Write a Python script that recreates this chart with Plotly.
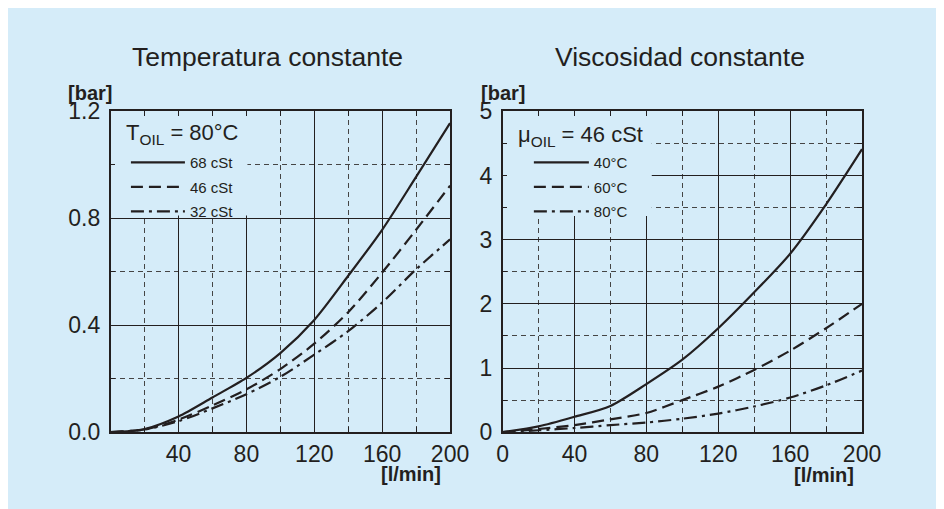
import plotly.graph_objects as go

# ---------------- data ----------------
flow = [0, 20, 40, 60, 80, 100, 120, 140, 160, 180, 200]

visc_labels = ["68 cSt", "46 cSt", "32 cSt"]
p_68cst = [0, 0.012, 0.059, 0.13, 0.203, 0.296, 0.42, 0.585, 0.757, 0.955, 1.156]
p_46cst = [0, 0.010, 0.047, 0.10, 0.160, 0.236, 0.331, 0.449, 0.597, 0.757, 0.922]
p_32cst = [0, 0.010, 0.041, 0.089, 0.142, 0.207, 0.290, 0.378, 0.485, 0.609, 0.721]

temp_labels = ["40°C", "60°C", "80°C"]
p_40c = [0, 0.09, 0.24, 0.41, 0.75, 1.13, 1.62, 2.18, 2.78, 3.55, 4.41]
p_60c = [0, 0.05, 0.11, 0.20, 0.30, 0.50, 0.71, 0.97, 1.27, 1.62, 2.00]
p_80c = [0, 0.03, 0.065, 0.11, 0.15, 0.21, 0.29, 0.40, 0.54, 0.73, 0.96]

left_xticks = [40, 80, 120, 160, 200]
right_xticks = [0, 40, 80, 120, 160, 200]
x_minor = [20, 60, 100, 140, 180]
left_yticks = [0.0, 0.4, 0.8, 1.2]
left_yticklabels = ["0.0", "0.4", "0.8", "1.2"]
left_yminor = [0.2, 0.6, 1.0]
right_yticks = [0, 1, 2, 3, 4, 5]
right_yminor = [0.5, 1.5, 2.5, 3.5, 4.5]

title_left = "Temperatura constante"
title_right = "Viscosidad constante"
legend_title_left = "T<sub>OIL</sub> = 80°C"
legend_title_right = "μ<sub>OIL</sub> = 46 cSt"
y_unit = "<b>[bar]</b>"
x_unit = "<b>[l/min]</b>"

# ---------------- style ----------------
# the page body keeps its default 8px margin (white strip on the left and top)
OFF = 8
W, H = 944 - OFF, 509 - OFF
BG = "#d5ecf9"
INK = "#231f20"
FONT = "Liberation Sans, Arial, Helvetica, sans-serif"
DASHES = ["solid", "12px,6px", "13px,5px,3px,5px"]

def px(x):
    return (x - OFF) / W

def py(y):
    return 1 - (y - OFF) / H

fig = go.Figure()

for vals, name, dash in zip([p_68cst, p_46cst, p_32cst], visc_labels, DASHES):
    fig.add_trace(go.Scatter(x=flow, y=vals, name=name, mode="lines",
                             line=dict(color=INK, width=2.2, dash=dash, shape="spline", smoothing=0.8),
                             xaxis="x", yaxis="y", legend="legend", legendgroup=name,
                             hoverinfo="skip"))

for vals, name, dash in zip([p_40c, p_60c, p_80c], temp_labels, DASHES):
    fig.add_trace(go.Scatter(x=flow, y=vals, name=name, mode="lines",
                             line=dict(color=INK, width=2.2, dash=dash, shape="spline", smoothing=0.8),
                             xaxis="x2", yaxis="y2", legend="legend2", legendgroup=name,
                             hoverinfo="skip"))

def axis(domain, rng, tickvals, minor_vals, ticktext=None, standoff=0, anchor=None):
    d = dict(domain=domain, range=rng, tickmode="array", tickvals=tickvals,
             showline=True, linecolor=INK, linewidth=1.6, mirror="ticks",
             ticks="inside", ticklen=5, tickcolor=INK, tickwidth=1,
             showgrid=True, gridcolor=INK, gridwidth=1, zeroline=False,
             tickfont=dict(family=FONT, size=23, color=INK),
             ticklabelstandoff=standoff, anchor=anchor, fixedrange=True,
             minor=dict(tickmode="array", tickvals=minor_vals, ticks="inside", ticklen=5,
                        tickcolor=INK, tickwidth=1, showgrid=True, gridcolor="#454545",
                        griddash="5px,4px", gridwidth=1))
    if ticktext is not None:
        d["ticktext"] = ticktext
    return d

yd = [py(441.7), py(103.3)]

def legend_cfg(x_left, y_top, itemwidth):
    return dict(x=px(x_left), y=py(y_top), xanchor="left", yanchor="top",
                bgcolor="rgba(0,0,0,0)", font=dict(family=FONT, size=15, color=INK),
                itemwidth=itemwidth, tracegroupgap=2)

fig.update_layout(
    width=W, height=H, margin=dict(l=0, r=0, t=0, b=0),
    paper_bgcolor=BG, plot_bgcolor=BG, showlegend=True,
    xaxis=axis([px(107.3), px(456)], [0, 200], left_xticks, x_minor, standoff=0, anchor="y"),
    yaxis=axis(yd, [0, 1.2], left_yticks, left_yminor, ticktext=left_yticklabels, standoff=4, anchor="x"),
    xaxis2=axis([px(510), px(879.3)], [0, 200], right_xticks, x_minor, standoff=0, anchor="y2"),
    yaxis2=axis(yd, [0, 5], right_yticks, right_yminor, standoff=4, anchor="x2"),
    legend=legend_cfg(123, 140, 54),
    legend2=legend_cfg(537, 140, 55),
)

# legend masks (hide grid behind the legend boxes)
fig.update_layout(shapes=[
    dict(type="rect", xref="x", yref="y", x0=0, x1=80.6, y0=0.81, y1=1.2,
         fillcolor=BG, line=dict(width=0), layer="between"),
    dict(type="rect", xref="x2", yref="y2", x0=0, x1=83, y0=3.37, y1=5,
         fillcolor=BG, line=dict(width=0), layer="between"),
])

ann = [
    dict(text=title_left, x=px(268.5), y=py(45.5), size=26.5, xanchor="center"),
    dict(text=title_right, x=px(692), y=py(45.5), size=26.5, xanchor="center"),
    dict(text=legend_title_left, x=px(121), y=py(127), size=22, xanchor="left"),
    dict(text=legend_title_right, x=px(524), y=py(129), size=22, xanchor="left"),
    dict(text=y_unit, x=px(61), y=py(84), size=20, xanchor="left"),
    dict(text=y_unit, x=px(486), y=py(84), size=20, xanchor="left"),
    dict(text=x_unit, x=px(449), y=py(486), size=20, xanchor="right"),
    dict(text=x_unit, x=px(873), y=py(487), size=20, xanchor="right"),
]
for a in ann:
    fig.add_annotation(text=a["text"], x=a["x"], y=a["y"], xref="paper", yref="paper",
                       xanchor=a["xanchor"], yanchor="middle", showarrow=False,
                       font=dict(family=FONT, size=a["size"], color=INK))

fig.write_html("out.html")
